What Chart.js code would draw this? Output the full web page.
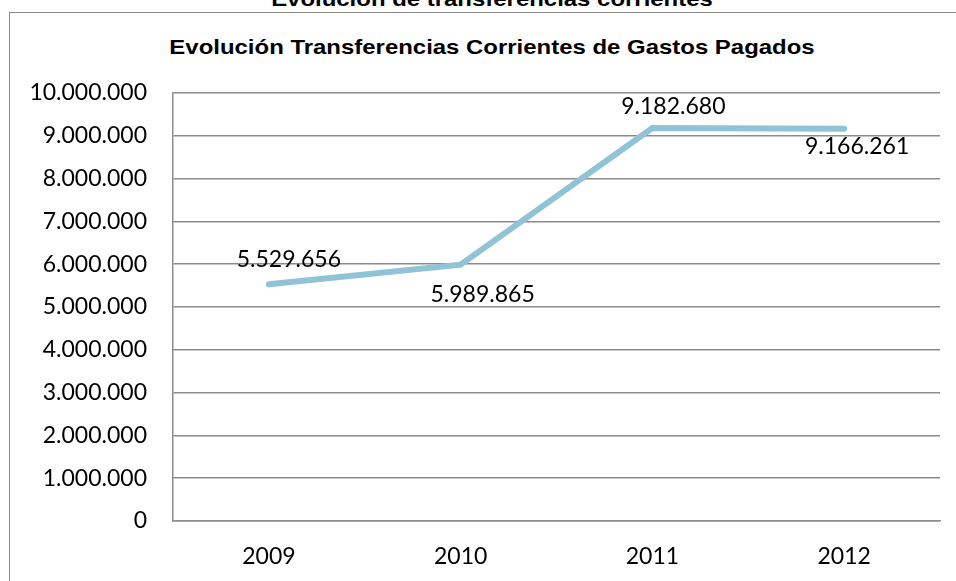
<!DOCTYPE html>
<html>
<head>
<meta charset="utf-8">
<script src="https://cdn.jsdelivr.net/npm/chart.js@4"></script>
<style>
  html, body { margin: 0; padding: 0; width: 956px; height: 581px; overflow: hidden; background: #fff; }
  #frame { position: absolute; left: 9px; top: 12px; width: 1000px; height: 700px; border: 1.5px solid #8a8a8a; }
  #outerTitle { position: absolute; left: 0; width: 984px; top: -12px; text-align: center;
    font: bold 21px "Liberation Sans", Arial, sans-serif; line-height: 21px; color: #000; white-space: nowrap;
    transform: scaleX(1.14); }
  #chartTitle { position: absolute; left: 0; width: 984px; top: 36px; text-align: center;
    font: bold 21px "Liberation Sans", Arial, sans-serif; line-height: 21px; color: #000; white-space: nowrap;
    transform: scaleX(1.14); }
  #chart { position: absolute; left: 0; top: 0; }
</style>
</head>
<body>
<div id="outerTitle">Evolución de transferencias corrientes</div>
<div id="frame"></div>
<div id="chartTitle">Evolución Transferencias Corrientes de Gastos Pagados</div>
<canvas id="chart" width="984" height="581"></canvas>
<script>
const years = ['2009', '2010', '2011', '2012'];
const pagados = [5529656, 5989865, 9182680, 9166261];
const yTicks = [0, 1000000, 2000000, 3000000, 4000000, 5000000, 6000000, 7000000, 8000000, 9000000, 10000000];

// Excel-style number format with dots
function fmt(v) {
    return String(v).replace(/\B(?=(\d{3})+(?!\d))/g, '.');
}

// offsets of the value labels relative to each point
const labelOffsets = [[20, -25], [22, 30], [21, -21], [13, 18]];

const valueLabels = {
    id: 'valueLabels',
    afterDatasetsDraw(chart) {
        const ctx = chart.ctx;
        const meta = chart.getDatasetMeta(0);
        ctx.save();
        ctx.font = '23px Lato';
        ctx.fillStyle = '#000';
        ctx.textAlign = 'center';
        ctx.textBaseline = 'middle';
        meta.data.forEach((pt, i) => {
            ctx.fillText(fmt(pagados[i]), pt.x + labelOffsets[i][0], pt.y + labelOffsets[i][1]);
        });
        ctx.restore();
    }
};

new Chart(document.getElementById('chart'), {
    type: 'line',
    data: {
        labels: years,
        datasets: [{
            data: pagados,
            borderColor: '#8fc3d5',
            borderWidth: 6,
            borderCapStyle: 'round',
            pointRadius: 0,
            tension: 0,
            fill: false
        }]
    },
    options: {
        responsive: false,
        animation: false,
        layout: { padding: { top: 93, right: 44, bottom: 0, left: 0 } },
        plugins: {
            legend: { display: false },
            title: { display: false },
            tooltip: { enabled: false }
        },
        scales: {
            x: {
                offset: true,
                grid: { display: false, drawTicks: false },
                border: { display: true, color: '#8c8c8c', width: 1.5 },
                ticks: { color: '#000', font: { family: 'Lato', size: 23 }, padding: 22 },
                afterFit: s => { s.height = 60; }
            },
            y: {
                min: 0,
                max: 10000000,
                afterBuildTicks: s => { s.ticks = yTicks.map(v => ({ value: v })); },
                grid: { color: '#8c8c8c', lineWidth: 1.5, drawTicks: false },
                border: { display: true, color: '#8c8c8c', width: 1.5 },
                ticks: {
                    color: '#000',
                    font: { family: 'Lato', size: 23 },
                    padding: 26,
                    callback: v => fmt(v)
                },
                afterFit: s => { s.width = 173; }
            }
        }
    },
    plugins: [valueLabels]
});
</script>
</body>
</html>
